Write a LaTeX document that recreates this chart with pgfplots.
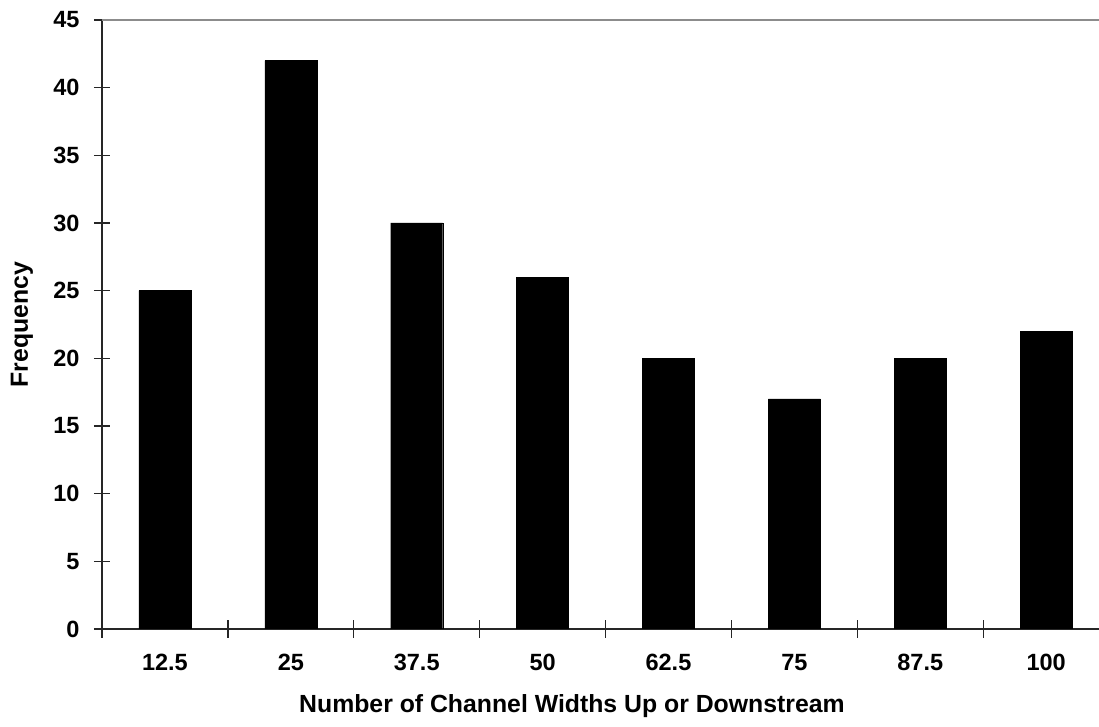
\documentclass[border=0pt]{standalone}
\usepackage{pgfplots}
\pgfplotsset{compat=1.18}
\usepackage{fontspec}
\setmainfont{Liberation Sans}

\begin{document}
\begin{tikzpicture}
  \begin{axis}[
      at={(0pt,0pt)}, anchor=south west,
      width=997pt, height=609pt, scale only axis,
      xmin=-0.5, xmax=7.42, ymin=0, ymax=45,
      axis x line*=bottom, axis y line*=left,
      axis line style={line width=1.5pt, color=black!85},
      ybar, bar width=52pt,
      xtick={0,...,7},
      xticklabels={12.5,25,37.5,50,62.5,75,87.5,100},
      major x tick style={draw=none},
      extra x ticks={-0.5,0.5,1.5,2.5,3.5,4.5,5.5,6.5},
      extra x tick labels={},
      extra x tick style={major tick length=17pt, tick align=center,
        major x tick style={draw=black!85, line width=1.3pt}},
      ytick={0,5,...,45},
      major tick length=16pt, tick align=center,
      y tick style={line width=1.3pt, color=black!85},
      /pgf/number format/assume math mode=true,
      tick label style={font=\fontsize{23.5}{27}\selectfont\bfseries},
      xticklabel style={yshift=-14pt},
      yticklabel style={xshift=-11pt},
      xlabel={Number of Channel Widths Up or Downstream},
      xlabel style={at={(axis cs:3.233,0)}, anchor=center, yshift=-77pt,
        font=\fontsize{24.8}{29}\selectfont\bfseries},
      ylabel={Frequency},
      ylabel style={at={([xshift=-80pt]rel axis cs:0,0.5)}, anchor=center,
        font=\fontsize{24.8}{29}\selectfont\bfseries},
    ]
    \addplot[fill=black, draw=black]
    coordinates {
        (0,25) (1,42) (2,30) (3,26) (4,20) (5,17) (6,20) (7,22)
      };
    \draw[color=black!45, line width=1.2pt]
    (rel axis cs:0,1) -- (rel axis cs:1,1);
  \end{axis}
  \pgfresetboundingbox
  \useasboundingbox (-102pt,-98pt) rectangle (997pt,629pt);
\end{tikzpicture}
\end{document}
